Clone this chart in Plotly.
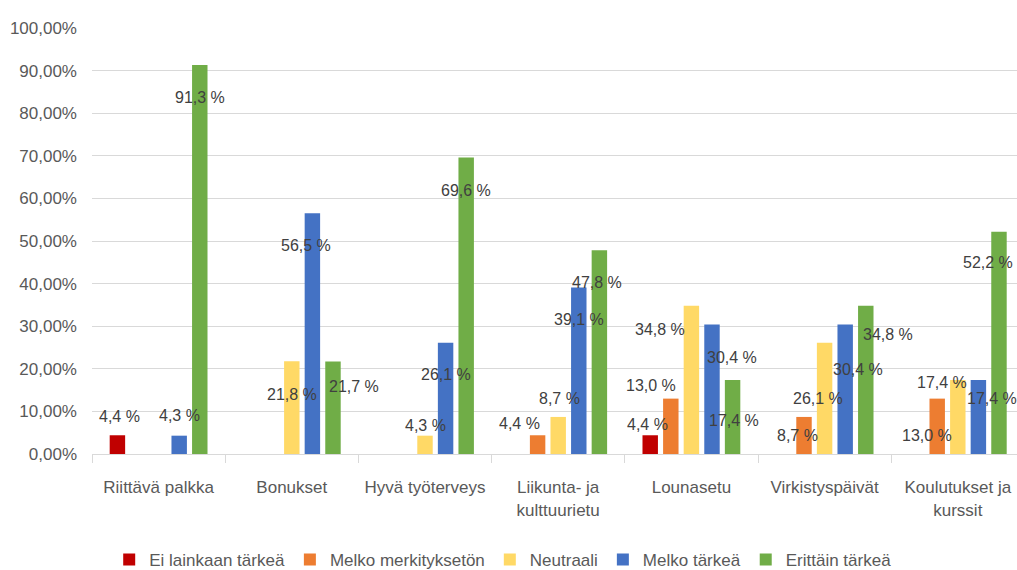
import plotly.graph_objects as go

categories = ["Riittävä palkka", "Bonukset", "Hyvä työterveys", "Liikunta- ja<br>kulttuurietu",
              "Lounasetu", "Virkistyspäivät", "Koulutukset ja<br>kurssit"]
series_names = ["Ei lainkaan tärkeä", "Melko merkityksetön", "Neutraali", "Melko tärkeä", "Erittäin tärkeä"]

ei_lainkaan = [4.4, 0, 0, 0, 4.4, 0, 0]
melko_merkityksetön = [0, 0, 0, 4.4, 13.0, 8.7, 13.0]
neutraali = [0, 21.8, 4.3, 8.7, 34.8, 26.1, 17.4]
melko_tärkeä = [4.3, 56.5, 26.1, 39.1, 30.4, 30.4, 17.4]
erittäin_tärkeä = [91.3, 21.7, 69.6, 47.8, 17.4, 34.8, 52.2]

y_ticks = [0, 0.1, 0.2, 0.3, 0.4, 0.5, 0.6, 0.7, 0.8, 0.9, 1.0]

series_values = [ei_lainkaan, melko_merkityksetön, neutraali, melko_tärkeä, erittäin_tärkeä]
colors = ["#C00000", "#ED7D31", "#FFD966", "#4472C4", "#70AD47"]

# label offsets (pixels) relative to bar top: (dx, dy downward)
label_offsets = [
    [(2, -19), None, None, None, (-3, -11), None, None],
    [None, None, None, (-18, -12), (-20, -13), (-7, 19), (-10, 37)],
    [None, (0, 33), (0, -10), (1, -18), (-31, 24), (-7, 56), (-16, 3)],
    [(0, -20), (-6, 32), (0, 32), (0, 32), (20, 33), (13, 45), (14, 19)],
    [(0, 32), (21, 25), (0, 33), (-2, 32), (1, 41), (22, 29), (-11, 31)],
]

FONT = "Liberation Sans, Arial, sans-serif"
W, H = 1017, 570
ML, MR, MT, MB = 92, 0, 28, 116
x_lo = -0.5
x_hi = x_lo + (W - ML - MR) / 133.2
bargap = 0.227
pitch_px = 133.2 * (1 - bargap) / 5

fig = go.Figure()
for name, vals, col in zip(series_names, series_values, colors):
    fig.add_trace(go.Bar(
        name=name, x=categories, y=[v / 100 for v in vals],
        marker=dict(color=col, line=dict(width=0)),
        hoverinfo="skip",
    ))

annotations = []
for si, (vals, offs) in enumerate(zip(series_values, label_offsets)):
    for ci, (v, off) in enumerate(zip(vals, offs)):
        if v == 0 or off is None:
            continue
        dx, dy = off
        txt = f"{v:.1f}".replace(".", ",") + " %"
        annotations.append(dict(
            x=ci, y=v / 100, xref="x", yref="y", text=txt, showarrow=False,
            xanchor="center", yanchor="middle",
            xshift=(si - 2) * pitch_px + dx, yshift=-dy,
            font=dict(family=FONT, size=16, color="#404040"),
        ))

fig.update_layout(
    width=W, height=H,
    margin=dict(l=ML, r=MR, t=MT, b=MB, autoexpand=False),
    paper_bgcolor="white", plot_bgcolor="white",
    barmode="group", bargap=bargap, bargroupgap=0.25,
    separators=", ",
    font=dict(family=FONT, size=17, color="#595959"),
    annotations=annotations,
    showlegend=True,
    legend=dict(orientation="h", x=0.444, xanchor="center", y=-0.249, yanchor="middle",
                font=dict(family=FONT, size=17, color="#595959"),
                itemwidth=30, traceorder="normal"),
)
fig.update_xaxes(
    type="category", range=[x_lo, x_hi], tickangle=0,
    showline=True, linecolor="#D9D9D9", linewidth=1,
    ticks="outside", tickson="boundaries", ticklen=8, tickcolor="#D9D9D9",
    ticklabelstandoff=18,
    showgrid=False, tickfont=dict(family=FONT, size=17, color="#595959"),
)
fig.update_yaxes(
    range=[0, 1.0], tickvals=y_ticks, tickformat=".2%",
    showgrid=True, gridcolor="#D9D9D9", gridwidth=1,
    zeroline=False, showline=False, ticks="", ticklabelstandoff=14,
    tickfont=dict(family=FONT, size=17, color="#595959"),
)
fig.write_html("out.html")
